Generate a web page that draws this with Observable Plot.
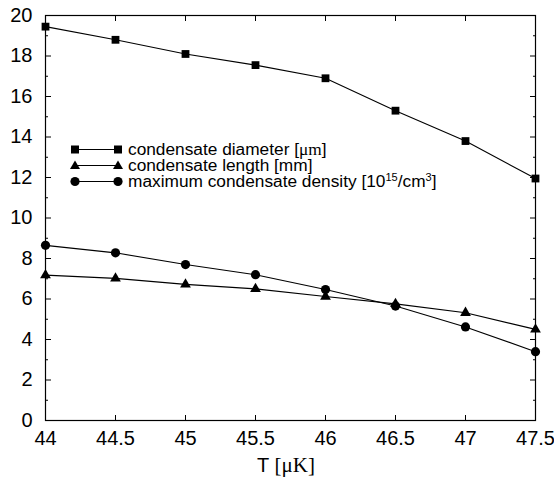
<!DOCTYPE html>
<html><head><meta charset="utf-8">
<script src="https://cdn.jsdelivr.net/npm/d3@7"></script>
<script src="https://cdn.jsdelivr.net/npm/@observablehq/plot@0.6"></script>
<style>
body{margin:0;background:#fff}
#wrap{position:relative;width:554px;height:477px;font-family:"Liberation Sans",Arial,sans-serif;color:#000}
.serif{font-family:"Liberation Serif","Times New Roman",serif}
#legend{position:absolute;left:70px;top:142px;font-size:17.3px;line-height:15.8px}
#legend .row{display:flex;align-items:center;height:15.8px;white-space:nowrap}
#legend svg{margin-right:6px}
#legend sup{font-size:11px;vertical-align:6px;line-height:0}
#xlabel{position:absolute;left:0;width:100%;top:453px;text-align:center;font-size:20px;padding-left:18px;box-sizing:border-box}
#xlabel .serif{font-size:21px}
</style>
</head><body>
<div id="wrap"></div>
<script>
const temperatures = [44, 44.5, 45, 45.5, 46, 46.5, 47, 47.5];
const diameter = [19.45, 18.8, 18.1, 17.55, 16.9, 15.3, 13.8, 11.95];
const lengthMm = [7.18, 7.02, 6.72, 6.5, 6.12, 5.76, 5.32, 4.5];
const density = [8.65, 8.28, 7.7, 7.2, 6.47, 5.65, 4.62, 3.4];
const seriesNames = ["diameter", "length", "density"];
const xTicks = [44, 44.5, 45, 45.5, 46, 46.5, 47, 47.5];
const yMajor = [0, 2, 4, 6, 8, 10, 12, 14, 16, 18, 20];
const yMinor = [1, 3, 5, 7, 9, 11, 13, 15, 17, 19];

const seriesValues = [diameter, lengthMm, density];
const rows = [];
seriesNames.forEach((s, i) => temperatures.forEach((t, j) => rows.push({series: s, T: t, value: seriesValues[i][j]})));

const chart = Plot.plot({
  width: 554, height: 477,
  marginLeft: 45, marginRight: 19, marginTop: 15, marginBottom: 57,
  x: {domain: [44, 47.5]},
  y: {domain: [0, 20]},
  style: {fontFamily: '"Liberation Sans", Arial, sans-serif', fontSize: "20px", color: "#000", background: "white"},
  marks: [
    Plot.frame({stroke: "#000", strokeWidth: 1.2}),
    Plot.axisX(xTicks, {tickSize: 0, tickPadding: 10, tickFormat: d => String(d), label: null, fontSize: 20}),
    Plot.axisX(xTicks, {tickSize: -5, text: null, label: null}),
    Plot.axisX(xTicks, {anchor: "top", tickSize: -5, text: null, label: null}),
    Plot.axisY(yMajor, {tickSize: 0, tickPadding: 13, label: null, fontSize: 20}),
    Plot.axisY(yMajor, {tickSize: -6, text: null, label: null}),
    Plot.axisY(yMinor, {tickSize: -3, text: null, label: null}),
    Plot.axisY(yMajor, {anchor: "right", tickSize: -6, text: null, label: null}),
    Plot.axisY(yMinor, {anchor: "right", tickSize: -3, text: null, label: null}),
    Plot.line(rows, {x: "T", y: "value", z: "series", stroke: "#000", strokeWidth: 1.1}),
    Plot.dot(rows, {filter: d => d.series === "diameter", x: "T", y: "value", symbol: "square", r: 4.4, fill: "#000"}),
    Plot.dot(rows, {filter: d => d.series === "length", x: "T", y: "value", symbol: "triangle", r: 4, fill: "#000"}),
    Plot.dot(rows, {filter: d => d.series === "density", x: "T", y: "value", symbol: "circle", r: 4.6, fill: "#000"})
  ]
});
const wrap = document.getElementById("wrap");
wrap.appendChild(chart);

function sym(kind) {
  let m;
  if (kind === "square") m = (x) => `<rect x="${x-4}" y="3.5" width="8" height="8"/>`;
  else if (kind === "triangle") m = (x) => `<path d="M${x},2.5 L${x+5},11 L${x-5},11 Z"/>`;
  else m = (x) => `<circle cx="${x}" cy="7.5" r="4.6"/>`;
  return `<svg width="52" height="15" style="overflow:visible"><line x1="5" y1="7.5" x2="48" y2="7.5" stroke="#000" stroke-width="1.1"/>${m(5)}${m(48)}</svg>`;
}
const legendLabels = [
  ["square", 'condensate diameter [<span class="serif">\u03bcm</span>]'],
  ["triangle", "condensate length [mm]"],
  ["circle", "maximum condensate density [10<sup>15</sup>/cm<sup>3</sup>]"]
];
const leg = document.createElement("div");
leg.id = "legend";
leg.innerHTML = legendLabels.map(([k, t]) => `<div class="row">${sym(k)}<span>${t}</span></div>`).join("");
wrap.appendChild(leg);
const xl = document.createElement("div");
xl.id = "xlabel";
xl.innerHTML = 'T <span class="serif">[\u03bcK]</span>';
wrap.appendChild(xl);
</script>
</body></html>
